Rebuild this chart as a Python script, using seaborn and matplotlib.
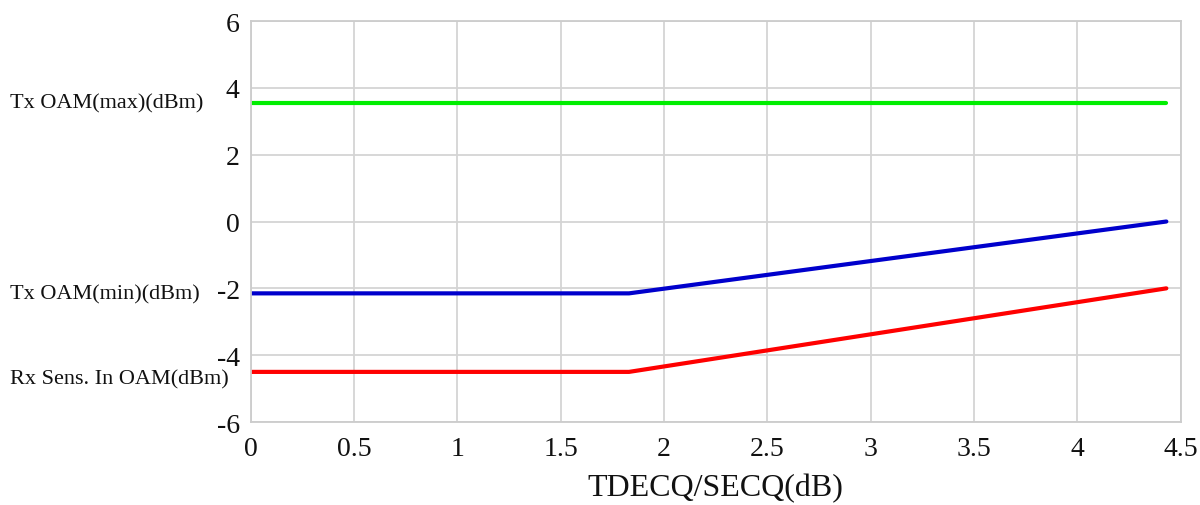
import matplotlib
matplotlib.use("Agg")
import matplotlib.pyplot as plt
import matplotlib.transforms as mtransforms
import seaborn as sns
import pandas as pd

# Data
x_points = [0.0, 1.83, 4.43]
tx_max = [3.55, 3.55, 3.55]
tx_min = [-2.15, -2.15, 0.0]
rx_sens = [-4.5, -4.5, -2.0]
series_names = ["Tx OAM(max)(dBm)", "Tx OAM(min)(dBm)", "Rx Sens. In OAM(dBm)"]
series_colors = ["#00ee00", "#0000cc", "#ff0000"]
x_ticks = [0, 0.5, 1, 1.5, 2, 2.5, 3, 3.5, 4, 4.5]
x_tick_labels = ["0", "0.5", "1", "1.5", "2", "2.5", "3", "3.5", "4", "4.5"]
y_ticks = [-6, -4, -2, 0, 2, 4, 6]
y_tick_labels = ["-6", "-4", "-2", "0", "2", "4", "6"]
x_label = "TDECQ/SECQ(dB)"

rows = []
for name, vals in zip(series_names, [tx_max, tx_min, rx_sens]):
    for xv, yv in zip(x_points, vals):
        rows.append({"x": xv, "y": yv, "series": name})
df = pd.DataFrame(rows)

sns.set_theme(style="whitegrid")
plt.rcParams["font.family"] = ["Liberation Serif", "DejaVu Serif"]

fig = plt.figure(figsize=(12, 5.06), dpi=100)
ax = fig.add_axes([0.209, 0.164, 0.775, 0.7925])

sns.lineplot(data=df, x="x", y="y", hue="series", hue_order=series_names,
             palette=series_colors, linewidth=3.0, legend=False, ax=ax)

ax.set_xlim(0, 4.5)
ax.set_ylim(-6, 6)
ax.set_xticks(x_ticks)
ax.set_xticklabels(x_tick_labels)
ax.set_yticks(y_ticks)
ax.set_yticklabels(y_tick_labels)
ax.tick_params(axis="both", labelsize=20, colors="#111111", length=0)
ax.tick_params(axis="x", pad=10)
ax.tick_params(axis="y", pad=8)
ax.set_xlabel(x_label, fontsize=23, color="#111111", labelpad=9)
ax.set_ylabel("")
ax.grid(True, color="#d4d4d4", linewidth=1.3)
ax.set_facecolor("white")
for sp in ax.spines.values():
    sp.set_color("#cccccc")
    sp.set_linewidth(1.3)

trans = mtransforms.blended_transform_factory(fig.transFigure, ax.transData)
label_offsets = [0.0, 0.0, -0.2]
for name, vals, off in zip(series_names, [tx_max, tx_min, rx_sens], label_offsets):
    ax.text(0.008, vals[0] + off, name, transform=trans, ha="left", va="center",
            fontsize=16, color="#111111", clip_on=False)

fig.savefig("out.png", dpi=100, facecolor="white")
